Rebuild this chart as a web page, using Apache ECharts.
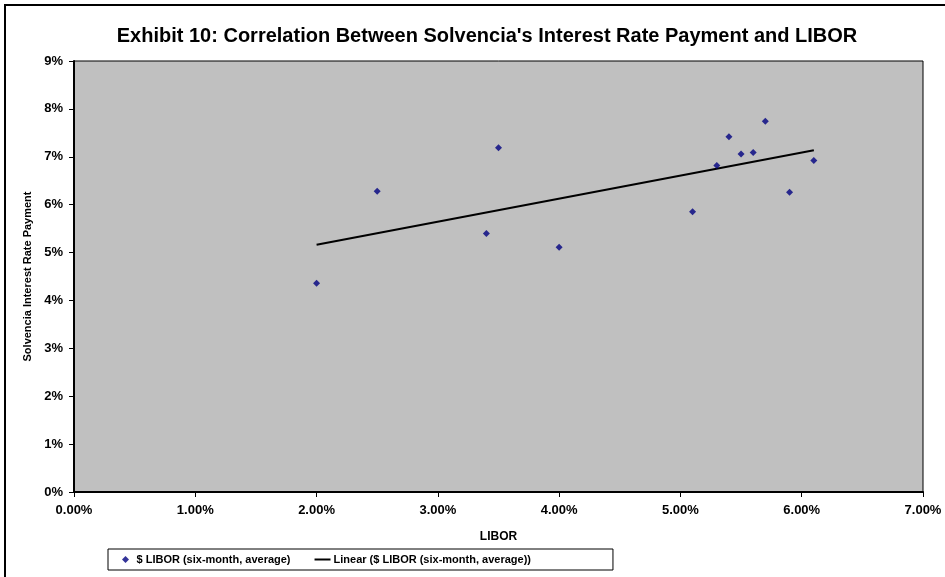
<!DOCTYPE html>
<html>
<head>
<meta charset="utf-8">
<script src="https://cdn.jsdelivr.net/npm/echarts@6/dist/echarts.min.js"></script>
<style>
  html, body { margin: 0; padding: 0; background: #fff; }
  #chart { width: 945px; height: 577px; }
</style>
</head>
<body>
<div id="chart"></div>
<script>
// data (percent)
const libor = [2.0, 2.5, 3.4, 3.5, 4.0, 5.1, 5.3, 5.4, 5.5, 5.6, 5.7, 5.9, 6.1]
const payment = [4.36, 6.28, 5.40, 7.19, 5.11, 5.85, 6.82, 7.42, 7.06, 7.09, 7.74, 6.26, 6.92]
const scatterName = '$ LIBOR (six-month, average)'
const trendName = 'Linear ($ LIBOR (six-month, average))'

// least squares trend, like excel's linear trendline
const n = libor.length
const mx = libor.reduce((a, b) => a + b, 0) / n
const my = payment.reduce((a, b) => a + b, 0) / n
let sxy = 0, sxx = 0
libor.forEach((x, i) => {
  sxy += (x - mx) * (payment[i] - my)
  sxx += (x - mx) * (x - mx)
})
const slope = sxy / sxx
const icpt = my - slope * mx
const xMin = Math.min(...libor), xMax = Math.max(...libor)
const trend = [[xMin, icpt + slope * xMin], [xMax, icpt + slope * xMax]]

const font = "'Liberation Sans', Arial, sans-serif"
const chart = echarts.init(document.getElementById('chart'))

chart.setOption({
  animation: false,
  backgroundColor: '#fff',
  textStyle: { fontFamily: font },
  title: {
    text: "Exhibit 10: Correlation Between Solvencia's Interest Rate Payment and LIBOR",
    left: 482,
    top: 21,
    textAlign: 'center',
    textStyle: { fontSize: 20, fontWeight: 'bold', color: '#000', fontFamily: font }
  },
  graphic: [{
    type: 'polyline',
    shape: { points: [[5, 600], [5, 5], [960, 5]] },
    style: { stroke: '#000', lineWidth: 2, fill: null },
    z: 10
  }],
  grid: {
    left: 74, right: 22, top: 61, bottom: 85,
    show: true,
    backgroundColor: '#C0C0C0',
    borderColor: '#000',
    borderWidth: 1
  },
  legend: {
    left: 108,
    top: 549,
    padding: [5, 82, 5, 14],
    itemGap: 24,
    itemWidth: 16,
    itemHeight: 7,
    symbolKeepAspect: true,
    borderColor: '#000',
    borderWidth: 1,
    borderRadius: 0,
    backgroundColor: '#fff',
    textStyle: { fontSize: 11, fontWeight: 'bold', color: '#000', fontFamily: font, padding: [0, 0, 0, -2] },
    data: [
      { name: scatterName, icon: 'path://M0,5L5,0L10,5L5,10Z', itemStyle: { color: '#000080' } },
      { name: trendName, icon: 'path://M0,0H16V2H0Z', itemStyle: { color: '#000' } }
    ]
  },
  xAxis: {
    type: 'value',
    min: 0, max: 7, interval: 1,
    name: 'LIBOR',
    nameLocation: 'middle',
    nameGap: 39,
    nameTextStyle: { fontSize: 12, fontWeight: 'bold', color: '#000' },
    axisLine: { onZero: false, lineStyle: { color: '#000', width: 2 } },
    axisTick: { show: true, length: 5, lineStyle: { color: '#000' } },
    axisLabel: {
      formatter: v => v.toFixed(2) + '%',
      fontSize: 13, fontWeight: 'bold', color: '#000', margin: 12
    },
    splitLine: { show: false }
  },
  yAxis: {
    type: 'value',
    min: 0, max: 9, interval: 1,
    name: 'Solvencia Interest Rate Payment',
    nameLocation: 'middle',
    nameGap: 38,
    nameTextStyle: { fontSize: 11, fontWeight: 'bold', color: '#000' },
    axisLine: { onZero: false, lineStyle: { color: '#000', width: 2 } },
    axisTick: { show: true, length: 5, lineStyle: { color: '#000' } },
    axisLabel: {
      formatter: v => v + '%',
      fontSize: 13, fontWeight: 'bold', color: '#000', margin: 11
    },
    splitLine: { show: false }
  },
  series: [
    {
      name: scatterName,
      type: 'scatter',
      symbol: 'diamond',
      symbolSize: 7,
      itemStyle: { color: '#000080' },
      data: libor.map((x, i) => [x, payment[i]]),
      z: 3
    },
    {
      name: trendName,
      type: 'line',
      symbol: 'none',
      lineStyle: { color: '#000', width: 2 },
      itemStyle: { color: '#000' },
      data: trend,
      z: 2
    }
  ]
})
</script>
</body>
</html>
